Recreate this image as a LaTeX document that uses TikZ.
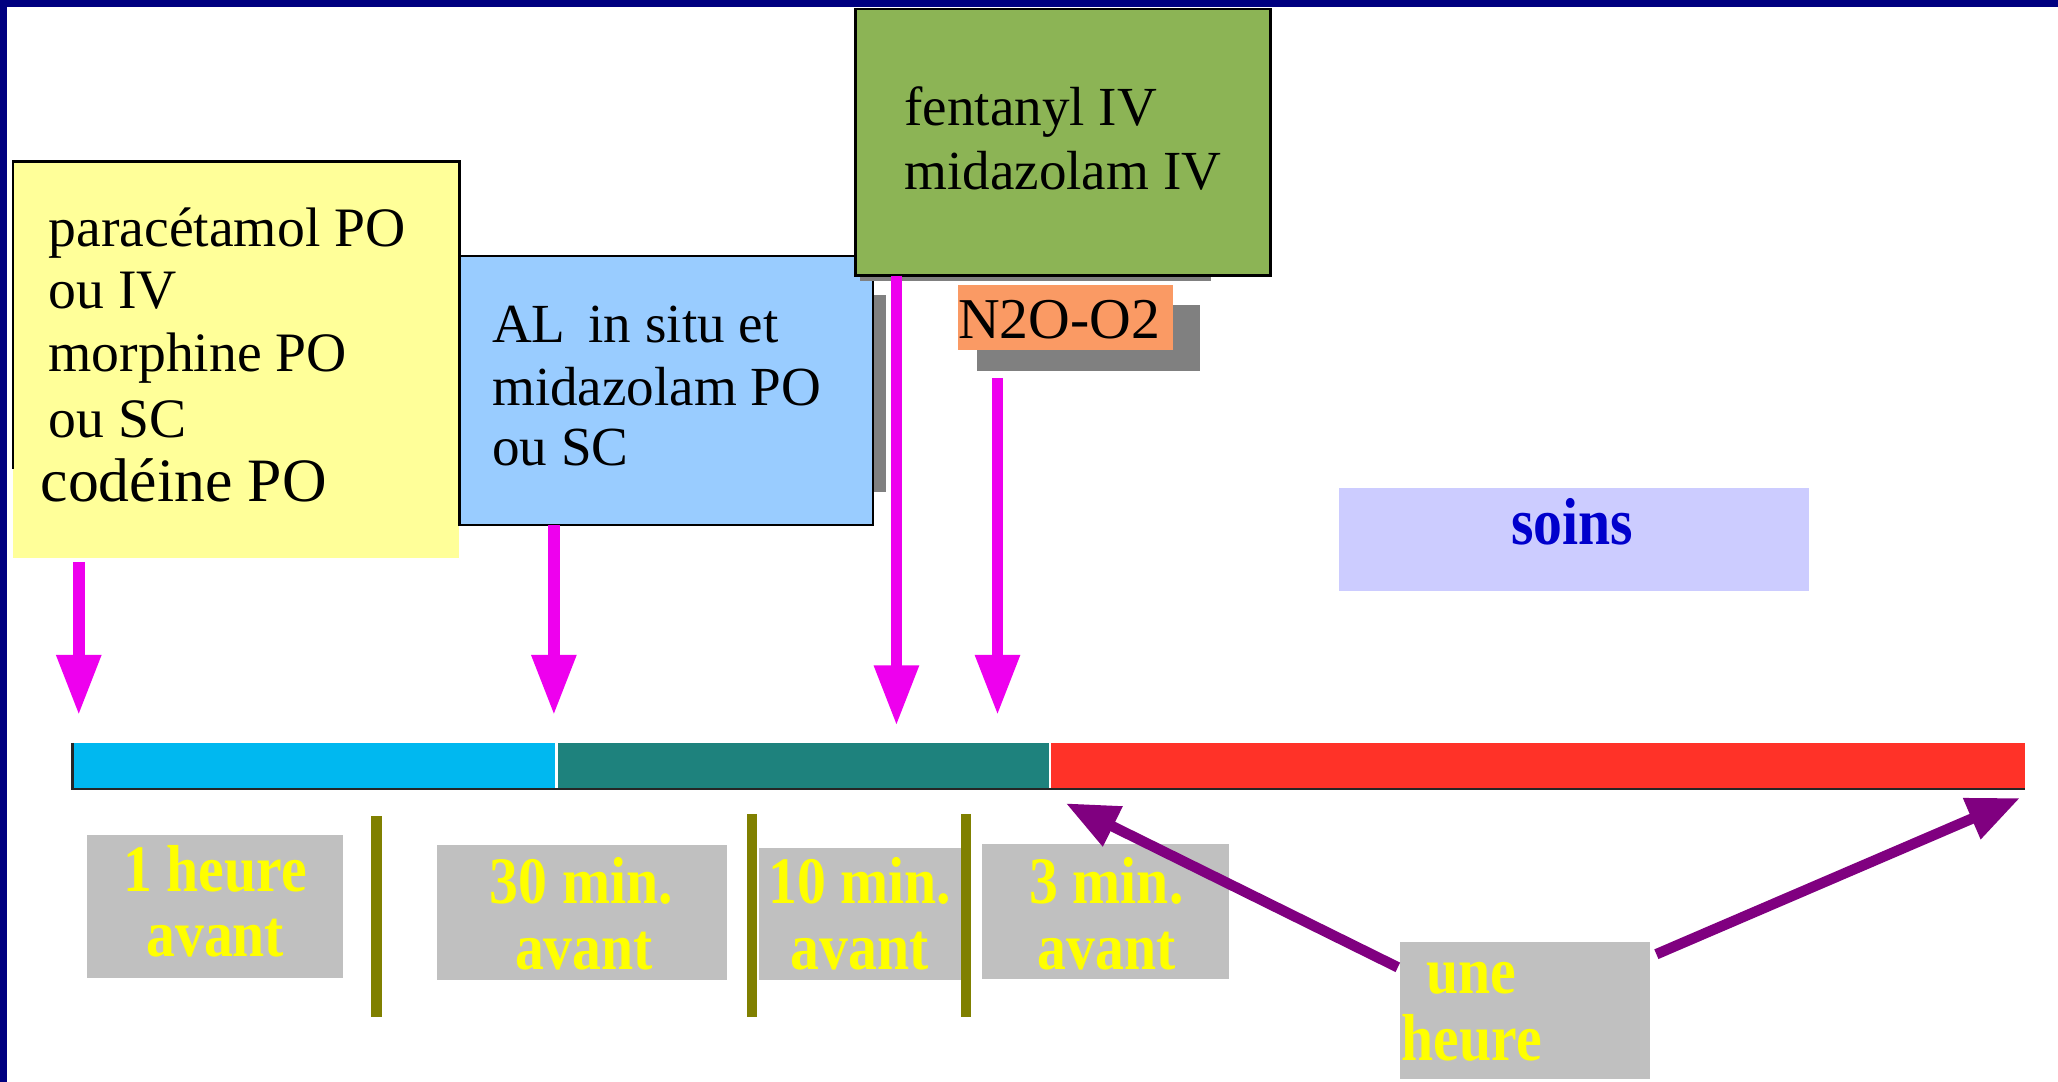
\documentclass[tikz,border=0pt]{standalone}
\usepackage{fontspec}
\usepackage{graphicx}
\setmainfont{Liberation Serif}
\usetikzlibrary{arrows.meta}
\definecolor{navy}{HTML}{000080}
\definecolor{yellowbox}{HTML}{FFFF99}
\definecolor{bluebox}{HTML}{99CCFF}
\definecolor{greenbox}{HTML}{8CB455}
\definecolor{orangebox}{HTML}{FA9A64}
\definecolor{shadowgray}{HTML}{808080}
\definecolor{lavender}{HTML}{CCCCFF}
\definecolor{soinsblue}{HTML}{0000CC}
\definecolor{labelgray}{HTML}{C0C0C0}
\definecolor{labelyellow}{HTML}{FFFF00}
\definecolor{olivebar}{HTML}{808000}
\definecolor{magentaarrow}{HTML}{EE00EE}
\definecolor{purplearrow}{HTML}{800080}
\definecolor{segcyan}{HTML}{00B8F0}
\definecolor{segteal}{HTML}{1E827D}
\definecolor{segred}{HTML}{FF3228}
\newcommand{\ftyel}{\fontsize{21.2}{25}\selectfont}
\newcommand{\ftcod}{\fontsize{23.5}{28}\selectfont}
\newcommand{\ftblu}{\fontsize{21}{25}\selectfont}
\newcommand{\ftlbl}{\fontsize{22}{26}\selectfont\bfseries}
\newcommand{\tallt}[1]{\scalebox{1}[1.15]{#1}}
\tikzset{
  box/.style={anchor=north west, inner sep=0pt, outer sep=0pt},
  txt/.style={anchor=base west, inner sep=0pt, outer sep=0pt},
  lbl/.style={anchor=base, inner sep=0pt, outer sep=0pt, font=\ftlbl, text=labelyellow},
  boxline/.style={draw=black, line width=1pt},
  magarrow/.style={draw=magentaarrow, line width=4.5pt, -{Triangle[length=23pt,width=16pt]}},
  purparrow/.style={draw=purplearrow, line width=4pt, -{Triangle[length=20pt,width=16pt]}},
  olive/.style={draw=olivebar, line width=4pt},
}
\begin{document}
\begin{tikzpicture}[x=0.5pt,y=-0.5pt]
\useasboundingbox (0,0) rectangle (1568,824);
\fill[white] (0,0) rectangle (1568,824);
\fill[navy] (0,0) rectangle (1568,5.5);
\fill[navy] (0,0) rectangle (5,824);

% yellow box
\node[box, fill=yellowbox, minimum width=170pt, minimum height=151pt] (ybox) at (10,123) {};
\draw[boxline] (10,357) -- (ybox.north west) -- (ybox.north east) -- (350,200);
\node[txt, font=\ftyel] (y1) at (37,188) {paracétamol PO};
\node[txt, font=\ftyel] (y2) at (37,235) {ou IV};
\node[txt, font=\ftyel] (y3) at (37,283) {morphine PO};
\node[txt, font=\ftyel] (y4) at (37,333) {ou SC};
\node[txt, font=\ftcod] (y5) at (31,382) {codéine PO};

% blue box
\node[box, fill=shadowgray, minimum width=5pt, minimum height=75pt] (bshadow) at (665,225) {};
\node[box, fill=bluebox, boxline, minimum width=157.5pt, minimum height=102.5pt] (bbox) at (350,195) {};
\node[txt, font=\ftblu] (b1) at (375,261) {AL\ \,in situ et};
\node[txt, font=\ftblu] (b2) at (375,309) {midazolam PO};
\node[txt, font=\ftblu] (b3) at (375,355) {ou SC};

% green box
\node[box, fill=shadowgray, minimum width=134pt, minimum height=2.5pt] (gshadow) at (655,209) {};
\node[box, fill=greenbox, boxline, minimum width=158pt, minimum height=101.5pt] (gbox) at (652,7) {};
\node[txt, font=\ftblu] (g1) at (689,96) {fentanyl IV};
\node[txt, font=\ftblu] (g2) at (689,144) {midazolam IV};

% N2O-O2
\node[box, fill=shadowgray, minimum width=85pt, minimum height=25.5pt] (nshadow) at (744,232) {};
\node[box, fill=orangebox, minimum width=82pt, minimum height=25pt] (nbox) at (730,217) {};
\node[txt, font=\fontsize{22}{26}\selectfont] (n1) at (730,258) {N2O-O2};

% soins
\node[box, fill=lavender, minimum width=179pt, minimum height=39pt] (sbox) at (1020,372) {};
\node[inner sep=0pt, anchor=base, font=\fontsize{22}{26}\selectfont\bfseries, text=soinsblue] (s1) at (1198,415) {\tallt{soins}};

% magenta arrows
\coordinate (a1s) at (60,428);  \coordinate (a1e) at (60,545);
\coordinate (a2s) at (422,400); \coordinate (a2e) at (422,545);
\coordinate (a3s) at (683,210); \coordinate (a3e) at (683,553);
\coordinate (a4s) at (760,288); \coordinate (a4e) at (760,545);
\draw[magarrow] (a1s) -- (a1e);
\draw[magarrow] (a2s) -- (a2e);
\draw[magarrow] (a3s) -- (a3e);
\draw[magarrow] (a4s) -- (a4e);

% timeline
\node[box, fill=segcyan, minimum width=184pt, minimum height=17.5pt] (seg1) at (55,566) {};
\node[box, fill=segteal, minimum width=187pt, minimum height=17.5pt] (seg2) at (425,566) {};
\node[box, fill=segred, minimum width=371pt, minimum height=17.5pt] (seg3) at (801,566) {};
\draw[black!85, line width=1pt] (seg1.north west) -- (seg1.south west) -- (seg3.south east);

% labels
\node[box, fill=labelgray, minimum width=97.5pt, minimum height=54.5pt] (l1) at (66,636) {};
\node[box, fill=labelgray, minimum width=110.5pt, minimum height=51.5pt] (l2) at (333,644) {};
\node[box, fill=labelgray, minimum width=77.5pt, minimum height=50.5pt] (l3) at (578,646) {};
\node[box, fill=labelgray, minimum width=94pt, minimum height=51.5pt] (l4) at (748,643) {};
\node[box, fill=labelgray, minimum width=95pt, minimum height=52pt] (l5) at (1067,718) {};

\node[lbl] (t1a) at (164,679) {\tallt{1 heure}};
\node[lbl] (t1b) at (164,729) {\tallt{avant}};
\node[lbl] (t2a) at (443,688) {\tallt{30 min.}};
\node[lbl] (t2b) at (445,739) {\tallt{avant}};
\node[lbl] (t3a) at (655,688) {\tallt{10 min.}};
\node[lbl] (t3b) at (655,739) {\tallt{avant}};
\node[lbl] (t4a) at (843,688) {\tallt{3 min.}};
\node[lbl] (t4b) at (843,739) {\tallt{avant}};
\node[lbl, anchor=base west] (t5a) at (1087,757) {\tallt{une}};
\node[lbl, anchor=base west] (t5b) at (1068,808) {\tallt{heure}};

% olive bars
\coordinate (o1t) at (287,622); \coordinate (o1b) at (287,775);
\coordinate (o2t) at (573,620); \coordinate (o2b) at (573,775);
\coordinate (o3t) at (736,620); \coordinate (o3b) at (736,775);
\draw[olive] (o1t) -- (o1b);
\draw[olive] (o2t) -- (o2b);
\draw[olive] (o3t) -- (o3b);

% purple arrows
\coordinate (p1s) at (1065,737); \coordinate (p1e) at (812,612);
\coordinate (p2s) at (1262,727); \coordinate (p2e) at (1539,608);
\draw[purparrow] (p1s) -- (p1e);
\draw[purparrow] (p2s) -- (p2e);
\end{tikzpicture}
\end{document}
